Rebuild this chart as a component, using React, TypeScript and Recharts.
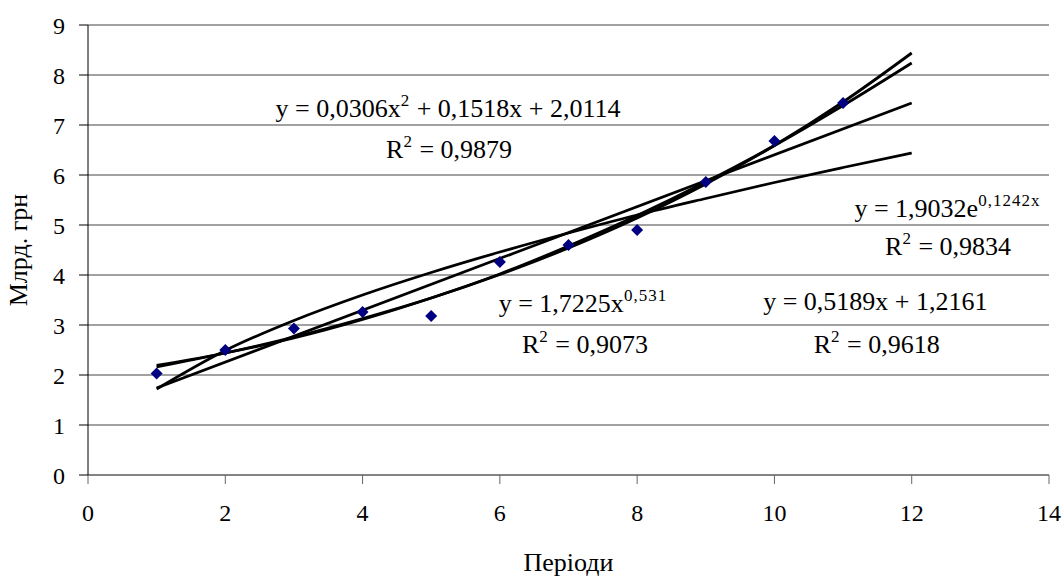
import { ComposedChart, Line, Scatter, XAxis, YAxis, CartesianGrid, ReferenceDot, Label } from 'recharts';

// observed values (Млрд. грн) for periods 1..11
const periods = [1, 2, 3, 4, 5, 6, 7, 8, 9, 10, 11];
const observed = [2.03, 2.5, 2.93, 3.26, 3.18, 4.26, 4.6, 4.9, 5.86, 6.68, 7.44];

// trend lines read at whole periods 1..12
const trendX = [1, 2, 3, 4, 5, 6, 7, 8, 9, 10, 11, 12];
const quadTrend = [2.19, 2.44, 2.74, 3.11, 3.54, 4.02, 4.58, 5.19, 5.86, 6.59, 7.39, 8.24];
const expTrend = [2.16, 2.44, 2.76, 3.13, 3.54, 4.01, 4.54, 5.14, 5.82, 6.59, 7.46, 8.44];
const powerTrend = [1.72, 2.49, 3.09, 3.6, 4.05, 4.46, 4.84, 5.2, 5.53, 5.85, 6.15, 6.44];
const linearX = [1, 12];
const linearTrend = [1.74, 7.44];

const xTicks = [0, 2, 4, 6, 8, 10, 12, 14];
const yTicks = [0, 1, 2, 3, 4, 5, 6, 7, 8, 9];

// equation labels: [x, y, main text, superscript, tail]
const equations: [number, number, string, string, string][] = [
  [5.245, 7.16, 'y = 0,0306x', '2', ' + 0,1518x + 2,0114'],
  [5.26, 6.34, 'R', '2', ' = 0,9879'],
  [12.52, 5.16, 'y = 1,9032e', '0,1242x', ''],
  [12.53, 4.4, 'R', '2', ' = 0,9834'],
  [7.21, 3.26, 'y = 1,7225x', '0,531', ''],
  [7.24, 2.44, 'R', '2', ' = 0,9073'],
  [11.47, 3.3, 'y = 0,5189x + 1,2161', '', ''],
  [11.49, 2.44, 'R', '2', ' = 0,9618'],
];

const font = 'Liberation Serif';

const toPoints = (xs: number[], ys: number[]) => xs.map((x, i) => ({ x, y: ys[i] }));

const Diamond = (props: any) => {
  const { cx, cy } = props;
  const r = 6;
  return <polygon points={`${cx},${cy - r} ${cx + r},${cy} ${cx},${cy + r} ${cx - r},${cy}`} fill="#000080" />;
};

const EquationText = (main: string, sup: string, tail: string) => (props: any) => {
  const { cx, cy } = props;
  return (
    <text x={cx} y={cy} textAnchor="middle" fontFamily={font} fontSize={26} fill="#000">
      {main}
      {sup && <tspan dy={-11} fontSize={17} letterSpacing={1}>{sup}</tspan>}
      {tail && <tspan dy={11} fontSize={26} letterSpacing={0}>{tail}</tspan>}
    </text>
  );
};

const lineProps = {
  dataKey: 'y',
  type: 'monotone' as const,
  stroke: '#000',
  strokeWidth: 2.8,
  dot: false,
  activeDot: false,
  isAnimationActive: false,
};

export default function App() {
  return (
    <div style={{ position: 'absolute', left: 0, top: 0, background: '#fff', fontFamily: font }}>
      <ComposedChart width={1064} height={577} margin={{ top: 25, right: 15, bottom: 42, left: 0 }}>
        <CartesianGrid vertical={false} stroke="#444" strokeWidth={1} />
        <XAxis
          type="number"
          dataKey="x"
          domain={[0, 14]}
          ticks={xTicks}
          allowDuplicatedCategory={false}
          height={60}
          tickSize={9}
          tickMargin={20}
          stroke="#666"
          tick={{ fill: '#000', fontSize: 24, fontFamily: font }}
        >
          <Label value="Періоди" position="insideBottom" offset={-36} fill="#000" fontSize={26} fontFamily={font} />
        </XAxis>
        <YAxis
          type="number"
          domain={[0, 9]}
          ticks={yTicks}
          width={88}
          tickSize={9}
          tickMargin={14}
          stroke="#000"
          tick={{ fill: '#000', fontSize: 24, fontFamily: font }}
        >
          <Label value="Млрд. грн" angle={-90} position="insideLeft" offset={18} fill="#000" fontSize={26} fontFamily={font} style={{ textAnchor: 'middle' }} />
        </YAxis>
        <Line data={toPoints(trendX, quadTrend)} {...lineProps} />
        <Line data={toPoints(trendX, expTrend)} {...lineProps} />
        <Line data={toPoints(trendX, powerTrend)} {...lineProps} />
        <Line data={toPoints(linearX, linearTrend)} {...lineProps} type="linear" />
        <Scatter data={toPoints(periods, observed)} dataKey="y" shape={<Diamond />} isAnimationActive={false} />
        {equations.map(([x, y, main, sup, tail], i) => (
          <ReferenceDot key={i} x={x} y={y} r={0} ifOverflow="visible" shape={EquationText(main, sup, tail)} />
        ))}
      </ComposedChart>
    </div>
  );
}
